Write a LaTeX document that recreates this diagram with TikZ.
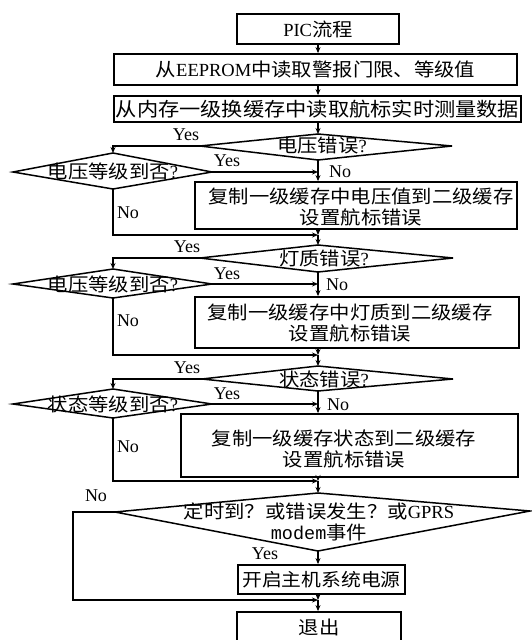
\documentclass[tikz,border=0pt]{standalone}
\usepackage{fontspec}
\setmainfont{Liberation Serif}
\newfontfamily\cjk[FakeStretch=1.1]{Noto Sans CJK SC}
\newfontfamily\mymono{Liberation Mono}
\usetikzlibrary{arrows.meta}
\newcommand{\zh}[1]{{\cjk #1}}
\tikzset{
  box/.style={draw, line width=1.8pt, inner sep=0pt, align=center, font=\fontsize{18.5}{21.5}\selectfont},
  txt/.style={inner sep=0pt, align=center, font=\fontsize{18.5}{21.5}\selectfont},
  lbl/.style={inner sep=0pt, font=\fontsize{18}{18}\selectfont},
  dshape/.style={draw, line width=1.5pt, line join=miter},
  conn/.style={line width=1.5pt, -{Stealth[length=6pt,width=5pt]}}
}
\begin{document}
\begin{tikzpicture}[x=1pt,y=-1pt]
\useasboundingbox[fill=white] (0,0) rectangle (532,640);
\clip (0,0) rectangle (532,640);
% boxes
\node[box, minimum width=162pt, minimum height=30pt] (b1) at (318,29) {PIC\zh{流程}};
\node[box, minimum width=403pt, minimum height=31pt] (b2) at (315.5,69.5) {\zh{从}EEPROM\zh{中读取警报门限、等级值}};
\node[box, minimum width=407pt, minimum height=26pt, font=\fontsize{19.3}{22}\selectfont] (b3) at (317.5,109) {\zh{从内存一级换缓存中读取航标实时测量数据}};
\node[box, minimum width=322pt, minimum height=47pt] (b4) at (356,205.5) {};
\node[txt] (t4) at (361,207) {\zh{复制一级缓存中电压值到二级缓存}\\\zh{设置航标错误}};
\node[box, minimum width=324pt, minimum height=51pt] (b5) at (357,322.5) {};
\node[txt] (t5) at (350,323) {\zh{复制一级缓存中灯质到二级缓存}\\\zh{设置航标错误}};
\node[box, minimum width=337pt, minimum height=63pt] (b6) at (349.5,445.5) {};
\node[txt] (t6) at (344,449) {\zh{复制一级缓存状态到二级缓存}\\\zh{设置航标错误}};
\node[box, minimum width=167pt, minimum height=29pt, font=\fontsize{18}{20}\selectfont] (b7) at (321.5,579.5) {\zh{开启主机系统电源}};
\node[box, minimum width=164pt, minimum height=48pt] (b8) at (319,636) {};
\node[txt] (t8) at (319,627) {\zh{退出}};
% diamonds
\coordinate (d1t) at (318,134); \coordinate (d1r) at (452,146); \coordinate (d1b) at (318,160); \coordinate (d1l) at (200,146);
\coordinate (d2t) at (113,153); \coordinate (d2r) at (212,172); \coordinate (d2b) at (113,189); \coordinate (d2l) at (13,172);
\coordinate (d3t) at (318,245); \coordinate (d3r) at (453,258); \coordinate (d3b) at (318,272); \coordinate (d3l) at (200,258);
\coordinate (d4t) at (113,269); \coordinate (d4r) at (212,284); \coordinate (d4b) at (113,298); \coordinate (d4l) at (13,284);
\coordinate (d5t) at (318,366); \coordinate (d5r) at (453,379); \coordinate (d5b) at (318,391); \coordinate (d5l) at (202,379);
\coordinate (d6t) at (113,389); \coordinate (d6r) at (212,404); \coordinate (d6b) at (113,418); \coordinate (d6l) at (13,404);
\coordinate (d7t) at (318,493); \coordinate (d7r) at (530,511); \coordinate (d7b) at (318,551); \coordinate (d7l) at (115,512);
\foreach \d in {d1,d2,d3,d4,d5,d6,d7}
  \draw[dshape] (\d t) -- (\d r) -- (\d b) -- (\d l) -- cycle;
\node[txt] (q1) at (322,145) {\zh{电压错误}?};
\node[txt] (q2) at (113,171) {\zh{电压等级到否}?};
\node[txt] (q3) at (324,258) {\zh{灯质错误}?};
\node[txt] (q4) at (113,284) {\zh{电压等级到否}?};
\node[txt] (q5) at (324,379) {\zh{状态错误}?};
\node[txt] (q6) at (113,404) {\zh{状态等级到否}?};
\node[txt] (q7) at (319,522) {\zh{定时到？或错误发生？或}GPRS\\{\mymono modem}\zh{事件}};
% junctions
\coordinate (j1) at (318,235);
\coordinate (j2) at (318,355);
\coordinate (j3) at (318,481);
\coordinate (j4) at (318,600);
\coordinate (n7c) at (73,512);
% connectors
\draw[conn] (b1.south) -- (b1.south |- b2.north);
\draw[conn] (b1.south |- b2.south) -- (b1.south |- b3.north);
\draw[conn] (b1.south |- b3.south) -- (d1t);
\draw[conn] (d1b) -- (d1b |- b4.north);
\draw[conn] (d1l) -- (d2t |- d1l) -- (d2t);
\draw[conn] (d2r) -- (d2r -| d1b);
\draw[conn] (d1b |- b4.south) -- (j1);
\draw[conn] (d2b) -- (d2b |- j1) -- (j1);
\draw[conn] (j1) -- (d3t);
\draw[conn] (d3b) -- (d3b |- b5.north);
\draw[conn] (d3l) -- (d4t |- d3l) -- (d4t);
\draw[conn] (d4r) -- (d4r -| d3b);
\draw[conn] (d3b |- b5.south) -- (j2);
\draw[conn] (d4b) -- (d4b |- j2) -- (j2);
\draw[conn] (j2) -- (d5t);
\draw[conn] (d5b) -- (d5b |- b6.north);
\draw[conn] (d5l) -- (d6t |- d5l) -- (d6t);
\draw[conn] (d6r) -- (d6r -| d5b);
\draw[conn] (d5b |- b6.south) -- (j3);
\draw[conn] (d6b) -- (d6b |- j3) -- (j3);
\draw[conn] (j3) -- (d7t);
\draw[conn] (d7b) -- (d7b |- b7.north);
\draw[conn] (d7l) -- (n7c) -- (n7c |- j4) -- (j4);
\draw[conn] (d7b |- b7.south) -- (j4);
\draw[conn] (j4) -- (d7b |- b8.north);
% labels
\node[lbl] (y1) at (186,135) {Yes};
\node[lbl] (y2) at (227,161) {Yes};
\node[lbl] (n1) at (340,172) {No};
\node[lbl] (n2) at (128,213) {No};
\node[lbl] (y3) at (187,247) {Yes};
\node[lbl] (y4) at (227,274) {Yes};
\node[lbl] (n3) at (337,285) {No};
\node[lbl] (n4) at (128,321) {No};
\node[lbl] (y5) at (187,368) {Yes};
\node[lbl] (y6) at (227,394) {Yes};
\node[lbl] (n5) at (338,405) {No};
\node[lbl] (n6) at (128,447) {No};
\node[lbl] (n7) at (96,496) {No};
\node[lbl] (y7) at (265,554) {Yes};
\end{tikzpicture}
\end{document}
